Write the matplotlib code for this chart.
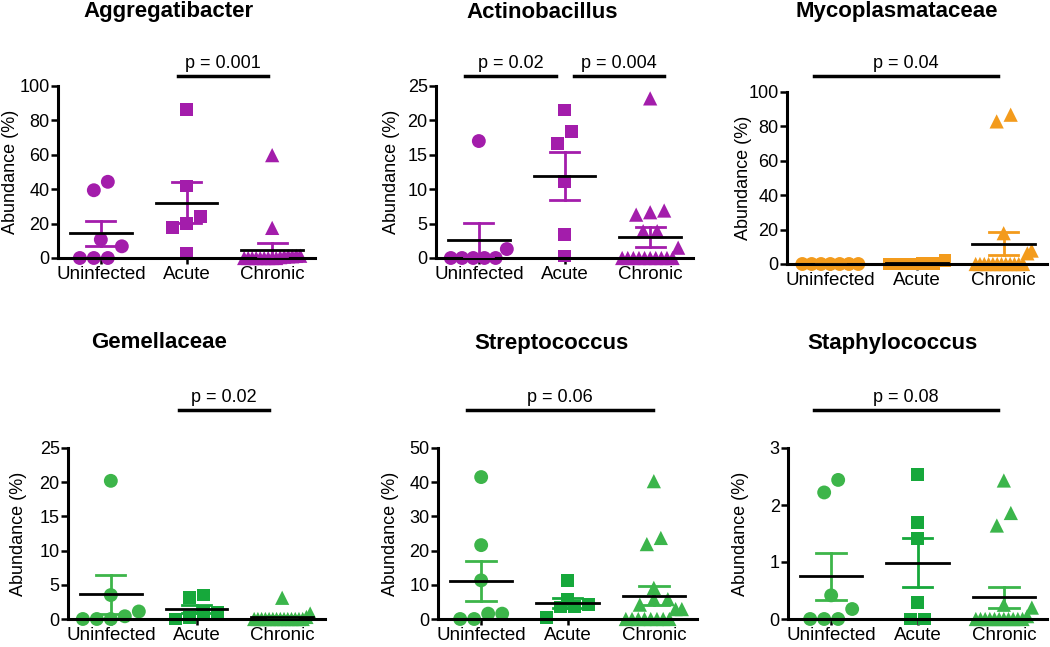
import numpy as np
import matplotlib
matplotlib.use("Agg")
import matplotlib.pyplot as plt
import matplotlib.transforms as mtransforms

plt.rcParams['font.family'] = ['Liberation Sans', 'DejaVu Sans']

groups = ['Uninfected', 'Acute', 'Chronic']

# --- values (% abundance) ---
agg_uninf = [0, 0, 0, 6.8, 10.7, 39.4, 44.3]
agg_acute = [2.5, 17.5, 20.0, 24.3, 41.9, 86.4]
agg_chron = [0, 0, 0, 0, 0, 0, 0, 0, 0, 0.5, 0.8, 1.0, 1.0, 1.2, 1.3, 17.5, 59.8]

act_uninf = [0, 0, 0, 0, 0, 1.3, 17.0]
act_acute = [0.3, 3.45, 11.1, 16.7, 18.4, 21.5]
act_chron = [0, 0, 0, 0, 0, 0, 0, 0, 0, 0, 1.5, 3.9, 3.9, 6.3, 6.65, 6.9, 23.2]

myc_uninf = [0, 0, 0, 0, 0, 0, 0]
myc_acute = [0, 0, 0, 0.5, 0.5, 2.0]
myc_chron = [0, 0, 0, 0, 0, 0, 0, 0, 0, 0, 0, 0, 6.2, 7.8, 17.9, 82.9, 86.8]

gem_uninf = [0, 0, 0, 0.4, 1.1, 3.5, 20.2]
gem_acute = [0, 0.2, 0.9, 1.0, 3.2, 3.5]
gem_chron = [0.8, 0, 0, 0, 0, 0, 0, 0, 0, 0, 0, 0, 0, 0, 0, 0.3, 3.1]

strep_uninf = [0, 0, 1.56, 1.56, 11.3, 21.6, 41.5]
strep_acute = [0.5, 3.5, 3.7, 4.2, 5.8, 11.2]
strep_chron = [0, 0, 0, 0, 0, 0, 0, 0, 2.9, 2.9, 4.2, 5.8, 5.8, 9.1, 21.9, 23.7, 40.3]

staph_uninf = [0, 0, 0, 0.175, 0.415, 2.22, 2.44]
staph_acute = [0, 0, 0.29, 1.41, 1.70, 2.54]
staph_chron = [0, 0, 0, 0, 0, 0, 0, 0, 0, 0, 0, 0.05, 0.2, 0.25, 1.64, 1.86, 2.43]

titles = ['Aggregatibacter', 'Actinobacillus', 'Mycoplasmataceae',
          'Gemellaceae', 'Streptococcus', 'Staphylococcus']
y_max = [100, 25, 100, 25, 50, 3]
y_step = [20, 5, 20, 5, 10, 1]
# significance bars: (start, end, label)
p_bars = [
    [(0.9, 1.95, 'p = 0.001')],
    [(-0.16, 0.9, 'p = 0.02'), (1.11, 2.16, 'p = 0.004')],
    [(-0.19, 1.94, 'p = 0.04')],
    [(0.79, 1.85, 'p = 0.02')],
    [(-0.16, 1.99, 'p = 0.06')],
    [(-0.2, 1.93, 'p = 0.08')],
]

data = [
    (agg_uninf, agg_acute, agg_chron),
    (act_uninf, act_acute, act_chron),
    (myc_uninf, myc_acute, myc_chron),
    (gem_uninf, gem_acute, gem_chron),
    (strep_uninf, strep_acute, strep_chron),
    (staph_uninf, staph_acute, staph_chron),
]

purple = '#A31DAB'
orange = '#F39B1C'
green_c = '#3DB54A'
green_s = '#16A83B'
green_t = '#3BB54B'
panel_colors = [
    [purple] * 3,
    [purple] * 3,
    [orange] * 3,
    [green_c, green_s, green_t],
    [green_c, green_s, green_t],
    [green_c, green_s, green_t],
]
markers = ['o', 's', '^']
msizes = [100, 85, 105]

W, H = 1050, 647
# axes boxes in pixels: left, top, right, bottom
boxes = [(58, 86, 315, 258), (436, 86, 693, 258), (787, 92, 1047, 264),
         (68, 448, 325, 619), (438, 448, 697, 619), (788, 448, 1047, 619)]
bar_gap = [10, 10, 16, 38, 38, 38]      # px from axes top to p-value bar
ylab_gap = [39, 36, 35, 41, 39, 39]     # px from y spine to right edge of y label
title_pos = [(169, 12), (542, 12), (897, 12), (159, 343), (551, 343), (892, 343)]


def swarm_offsets(ax, x0, vals, d_px=14, w_px=28):
    vals = np.asarray(vals, dtype=float)
    ys = ax.transData.transform(np.column_stack([np.full(len(vals), x0), vals]))[:, 1]
    order = np.argsort(vals, kind='stable')
    rows = []
    for i in order:
        if rows and ys[i] - ys[rows[-1][0]] < d_px:
            rows[-1].append(i)
        else:
            rows.append([i])
    offs = np.zeros(len(vals))
    for row in rows:
        m = len(row)
        if m > 1:
            step = min(d_px, 2 * w_px / (m - 1))
            for k, i in enumerate(row):
                offs[i] = (k - (m - 1) / 2) * step
    ppu = ax.transData.transform((1, 0))[0] - ax.transData.transform((0, 0))[0]
    return offs / ppu


fig = plt.figure(figsize=(W / 100, H / 100), dpi=100)

for p in range(6):
    l, t, r, b = boxes[p]
    ax = fig.add_axes([l / W, 1 - b / H, (r - l) / W, (b - t) / H])
    ax.set_xlim(-0.5, 2.5)
    ax.set_ylim(0, y_max[p])
    ax.set_yticks(np.arange(0, y_max[p] + 0.001, y_step[p]))
    ax.set_xticks(range(3))
    ax.set_xticklabels(groups, fontsize=13.5)
    ax.tick_params(axis='y', labelsize=13, length=5, width=1.8, pad=1)
    ax.tick_params(axis='x', length=4, width=1.8, pad=2)
    for s in ['top', 'right']:
        ax.spines[s].set_visible(False)
    for s in ['left', 'bottom']:
        ax.spines[s].set_linewidth(2.2)
        ax.spines[s].set_zorder(3)
    ax.set_ylabel('Abundance (%)', fontsize=13)
    ax.yaxis.set_label_coords(-ylab_gap[p] / (r - l), 0.5)

    for g in range(3):
        vals = np.array(data[p][g], dtype=float)
        col = panel_colors[p][g]
        xs = g + swarm_offsets(ax, g, vals)
        ax.scatter(xs, vals, s=msizes[g], marker=markers[g], color=col,
                   edgecolors='none', zorder=2, clip_on=False)
        mean = vals.mean()
        sem = vals.std(ddof=1) / np.sqrt(len(vals))
        lo, hi = max(mean - sem, 0), mean + sem
        ax.plot([g, g], [lo, hi], color=col, lw=2, zorder=4)
        for yy in (lo, hi):
            ax.plot([g - 0.17, g + 0.17], [yy, yy], color=col, lw=2, zorder=4)
        ax.plot([g - 0.36, g + 0.36], [mean, mean], color='black', lw=2,
                zorder=5, clip_on=False)

    trans = mtransforms.blended_transform_factory(ax.transData, ax.transAxes)
    yb = 1 + bar_gap[p] / (b - t)
    for x0, x1, lab in p_bars[p]:
        ax.plot([x0, x1], [yb, yb], color='black', lw=2.5, transform=trans,
                clip_on=False)
        ax.annotate(lab, xy=((x0 + x1) / 2, yb), xycoords=trans,
                    xytext=(0, 3), textcoords='offset points',
                    ha='center', va='bottom', fontsize=13)

    tx, ty = title_pos[p]
    fig.text(tx / W, 1 - ty / H, titles[p], ha='center', va='center',
             fontsize=16, fontweight='bold')

fig.savefig('out.png', dpi=100)
